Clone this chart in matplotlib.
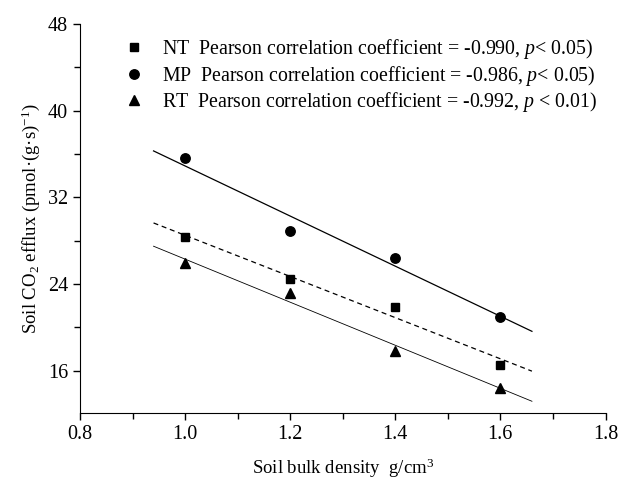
import numpy as np
import matplotlib
matplotlib.use("Agg")
import matplotlib.pyplot as plt
from matplotlib.ticker import MultipleLocator
from matplotlib.lines import Line2D

plt.rcParams['font.family'] = ['Liberation Serif', 'DejaVu Serif']
plt.rcParams['mathtext.fontset'] = 'custom'
plt.rcParams['mathtext.rm'] = 'Liberation Serif'
plt.rcParams['mathtext.it'] = 'Liberation Serif:italic'

# bulk density (g/cm3)
density = [1.0, 1.2, 1.4, 1.6]
# soil CO2 efflux
nt = [28.3, 24.5, 21.9, 16.5]
mp = [35.6, 28.85, 26.4, 21.0]
rt = [25.9, 23.2, 17.8, 14.45]

names = ["NT", "MP", "RT"]
r_vals = ["-0.990", "-0.986", "-0.992"]
p_txt = ["$p$< 0.05)", "$p$< 0.05)", "$p$ < 0.01)"]

fig = plt.figure(figsize=(6.19, 4.93), dpi=100)
ax = fig.add_axes([0.1292, 0.1623, 0.849, 0.789])

x = np.array(density)
xs = np.array([0.94, 1.66])

# (values, marker, linestyle, linewidth, marker size)
series = [(nt, 's', '--', 0.9, 6), (mp, 'o', '-', 0.9, 6.8), (rt, '^', '-', 0.6, 7.2)]
handles = []
for (y, mk, ls, lw, ms), name, r, p in zip(series, names, r_vals, p_txt):
    y = np.array(y)
    m, b = np.polyfit(x, y, 1)
    if ls == '--':
        ax.plot(xs, m * xs + b, color='black', lw=lw, ls=(0, (4, 3)))
    else:
        ax.plot(xs, m * xs + b, color='black', lw=lw, ls=ls)
    ax.plot(x, y, mk, color='black', ms=ms, ls='none')
    lab = f"{name}  Pearson correlation coefficient = {r}, {p}"
    handles.append(Line2D([], [], marker=mk, color='black', ls='none', ms=ms, label=lab))

ax.legend(handles=handles, loc='upper left', bbox_to_anchor=(0.04, 1.0), frameon=False,
          fontsize=14.3, handletextpad=0.4, labelspacing=0.13, borderaxespad=0.25)

ax.set_xlim(0.8, 1.8)
ax.set_ylim(12.1, 48)
ax.xaxis.set_minor_locator(MultipleLocator(0.1))
ax.yaxis.set_minor_locator(MultipleLocator(4))
ax.set_xticks([0.8, 1.0, 1.2, 1.4, 1.6, 1.8])
ax.set_xticklabels(["0.8", "1.0", "1.2", "1.4", "1.6", "1.8"])
ax.set_yticks([16, 24, 32, 40, 48])

ax.spines['top'].set_visible(False)
ax.spines['right'].set_visible(False)
ax.tick_params(which='both', direction='out', labelsize=14.5, width=1)
ax.tick_params(which='major', length=5)
ax.tick_params(which='minor', length=4)

ax.set_xlabel("Soil bulk density  g/cm$^3$", fontsize=13.5, labelpad=9)
ax.set_ylabel("Soil CO$_2$ efflux (pmol·(g·s)$^{-1}$)", fontsize=13.5, labelpad=4)

fig.savefig("out.png", dpi=100)
